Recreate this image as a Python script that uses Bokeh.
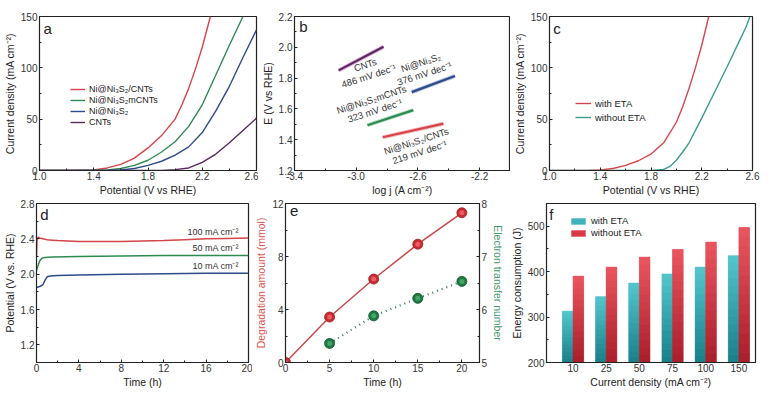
import numpy as np
from bokeh.plotting import figure
from bokeh.layouts import column, row
from bokeh.models import (Range1d, LinearAxis, Legend, LegendItem, FixedTicker,
                          Label, PrintfTickFormatter)
from bokeh.core.properties import value
from bokeh.embed import file_html
from bokeh.resources import INLINE

FONT = "Liberation Sans"

# ---------------- data ----------------
# (a) LSV curves
a_x_red = [1.0, 1.2, 1.4, 1.5, 1.6, 1.7, 1.8, 1.9, 2.0, 2.05, 2.1, 2.15, 2.2, 2.26]
a_y_red = [0, 0, 0.5, 2.5, 6, 12, 22, 34, 50, 64, 80, 99, 120, 150]
a_x_green = [1.0, 1.4, 1.5, 1.6, 1.7, 1.8, 1.9, 2.0, 2.1, 2.2, 2.3, 2.4, 2.5]
a_y_green = [0, 0, 0.5, 2, 5, 10, 18, 28, 43, 64, 93, 122, 150]
a_x_blue = [1.0, 1.5, 1.6, 1.7, 1.8, 1.9, 2.0, 2.1, 2.2, 2.3, 2.4, 2.5, 2.6]
a_y_blue = [0, 0, 0.5, 2, 5, 9, 15, 23, 37, 58, 82, 110, 137]
a_x_purple = [1.0, 1.9, 2.0, 2.1, 2.2, 2.3, 2.4, 2.5, 2.6]
a_y_purple = [0, 0, 0.8, 2.5, 8, 16, 27, 39, 51]
a_names = ["Ni@Ni\u2083S\u2082/CNTs", "Ni@Ni\u2083S\u2082mCNTs", "Ni@Ni\u2083S\u2082", "CNTs"]
pot_ticks = [1.0, 1.4, 1.8, 2.2, 2.6]
cd_ticks = [0, 50, 100, 150]

# (b) Tafel segments
b_names = ["CNTs", "Ni@Ni\u2083S\u2082", "Ni@Ni\u2083S\u2082mCNTs", "Ni@Ni\u2083S\u2082/CNTs"]
b_slopes = ["486 mV dec\u207b\u00b9", "376 mV dec\u207b\u00b9", "323 mV dec\u207b\u00b9", "219 mV dec\u207b\u00b9"]
b_x0 = [-3.114, -2.64, -2.927, -2.828]
b_y0 = [1.850, 1.709, 1.494, 1.416]
b_x1 = [-2.823, -2.36, -2.630, -2.435]
b_y1 = [2.003, 1.814, 1.592, 1.504]
b_xticks = [-3.4, -3.0, -2.6, -2.2]
b_yticks = [1.2, 1.4, 1.6, 1.8, 2.0, 2.2]

# (c) with / without ETA
c_x_with = [1.0, 1.3, 1.4, 1.5, 1.6, 1.7, 1.8, 1.9, 2.0, 2.05, 2.1, 2.15, 2.2, 2.255]
c_y_with = [0, 0, 0.5, 2, 5, 9.5, 16, 27, 47, 62, 80, 100, 122, 150]
c_x_wo = [1.0, 1.8, 1.9, 1.95, 2.0, 2.05, 2.1, 2.2, 2.3, 2.4, 2.5, 2.55, 2.58]
c_y_wo = [0, 0, 1, 4, 10, 18, 27, 51, 76, 101, 127, 140, 150]

# (d) chronopotentiometry
d_t_100 = [0, 0.05, 0.15, 0.3, 0.6, 1, 1.5, 2, 3, 4, 6, 8, 10, 12, 14, 16, 18, 20]
d_v_100 = [2.20, 2.38, 2.42, 2.41, 2.40, 2.39, 2.385, 2.38, 2.375, 2.37, 2.37, 2.37, 2.375, 2.38, 2.39, 2.40, 2.405, 2.41]
d_t_50 = [0, 0.1, 0.3, 0.5, 0.8, 1.5, 4, 8, 12, 16, 20]
d_v_50 = [2.04, 2.08, 2.15, 2.18, 2.19, 2.195, 2.20, 2.205, 2.21, 2.21, 2.21]
d_t_10 = [0, 0.3, 0.6, 0.8, 1.0, 1.3, 2, 4, 8, 12, 16, 20]
d_v_10 = [1.85, 1.86, 1.88, 1.93, 1.97, 1.98, 1.985, 1.99, 2.0, 2.005, 2.01, 2.01]
d_labels = ["100 mA cm\u207b\u00b2", "50 mA cm\u207b\u00b2", "10 mA cm\u207b\u00b2"]
d_xticks = [0, 4, 8, 12, 16, 20]
d_yticks = [1.2, 1.6, 2.0, 2.4, 2.8]

# (e) degradation / electron transfer number
e_t = [0, 5, 10, 15, 20]
e_deg = [0, 3.43, 6.30, 8.93, 11.30]
e_t2 = [5, 10, 15, 20]
e_etn = [5.36, 5.88, 6.21, 6.53]
e_xticks = [0, 5, 10, 15, 20]
e_yticks = [0, 4, 8, 12]
e_y2ticks = [5, 6, 7, 8]

# (f) energy consumption
f_cats = ["10", "25", "50", "75", "100", "150"]
f_with = [313, 345, 375, 395, 410, 435]
f_without = [390, 410, 432, 449, 465, 497]
f_yticks = [200, 300, 400, 500]

# ---------------- colours ----------------
RED = "#d4444a"
GREEN = "#2f8a52"
BLUE = "#2e4b8a"
PURPLE = "#55295a"
TEAL = "#3a9c8c"
INK = "#222222"


def minors(ticks):
    step = ticks[1] - ticks[0]
    return [t + step / 2 for t in [ticks[0] - step] + list(ticks)]


def mkfig(w, h, xr, yr, bl, br, bt, bb):
    p = figure(width=w, height=h, x_range=xr, y_range=yr, output_backend="svg",
               toolbar_location=None, min_border_left=bl, min_border_right=br,
               min_border_top=bt, min_border_bottom=bb)
    p.outline_line_color = INK
    p.outline_line_width = 1.2
    p.xgrid.visible = False
    p.ygrid.visible = False
    p.background_fill_color = "white"
    p.border_fill_color = "white"
    return p


def style_axis(ax, label, ticks=None, fmt=None, color=INK, horiz=False):
    ax.axis_label = label
    ax.axis_label_text_font = FONT
    ax.axis_label_text_font_size = "10.5px"
    ax.axis_label_text_font_style = "normal"
    ax.axis_label_text_color = color
    ax.major_label_text_font = FONT
    ax.major_label_text_font_size = "10px"
    ax.major_label_text_color = "#333333"
    ax.major_tick_in = 3
    ax.major_tick_out = 0
    ax.minor_tick_in = 2
    ax.minor_tick_out = 0
    ax.axis_label_standoff = 1 if horiz else 2
    ax.major_label_standoff = 1 if horiz else 2
    ax.axis_line_color = INK
    ax.major_tick_line_color = INK
    ax.minor_tick_line_color = INK
    if ticks is not None:
        ax.ticker = FixedTicker(ticks=ticks, minor_ticks=minors(ticks))
    if fmt is not None:
        ax.formatter = PrintfTickFormatter(format=fmt)


def letter(p, x, y, t):
    p.add_layout(Label(x=x, y=y, text=t, text_font=FONT, text_font_size="15px",
                       text_color=INK, text_baseline="top", text_align="left"))


def legend(p, items, loc, gw=15, gh=10, lh=10, sp=1, fs="9px"):
    lg = Legend(items=[LegendItem(label=l, renderers=[r]) for l, r in items],
                location=loc, background_fill_alpha=0, border_line_alpha=0,
                label_text_font=FONT, label_text_font_size=fs, label_text_color=INK,
                glyph_width=gw, glyph_height=gh, label_height=lh, spacing=sp,
                padding=0, margin=0, label_standoff=4)
    p.add_layout(lg)


H1, H2 = 198, 192
T1, B1 = 16, 23
T2, B2 = 5, 27

# ---------------- (a) ----------------
pa = mkfig(258, H1, Range1d(1.0, 2.6), Range1d(0, 150), 32, 2, T1, B1)
ra = pa.line(a_x_red, a_y_red, line_color=RED, line_width=1.4)
ga = pa.line(a_x_green, a_y_green, line_color=GREEN, line_width=1.4)
ba = pa.line(a_x_blue, a_y_blue, line_color=BLUE, line_width=1.4)
pua = pa.line(a_x_purple, a_y_purple, line_color=PURPLE, line_width=1.4)
style_axis(pa.xaxis[0], "Potential (V vs RHE)", pot_ticks, "%.1f", horiz=True)
style_axis(pa.yaxis[0], "Current density (mA cm\u207b\u00b2)", cd_ticks)
legend(pa, list(zip(a_names, [ra, ga, ba, pua])), (31, 43))
letter(pa, 1.03, 147, "a")

# ---------------- (b) ----------------
pb = mkfig(252, H1, Range1d(-3.4, -2.0), Range1d(1.2, 2.2), 27, 0, T1, B1)
b_cols = [PURPLE, BLUE, GREEN, RED]
b_halo = ["#d86ad8", "#6f8fd0", "#7cc79a", "#f08a90"]
pb.segment(b_x0, b_y0, b_x1, b_y1, line_color=b_halo, line_width=4, line_alpha=0.55)
pb.segment(b_x0, b_y0, b_x1, b_y1, line_color=b_cols, line_width=2.2)
b_lab_x = [-2.93, -2.57, -2.89, -2.60]
b_lab_y = [1.85, 1.865, 1.625, 1.355]
pb.text(b_lab_x, b_lab_y, text=[n + "\n" + s for n, s in zip(b_names, b_slopes)],
        angle=18, angle_units="deg", text_align="center", text_baseline="middle",
        text_font=value(FONT), text_font_size="9.5px", text_color="#333333",
        text_line_height=1.05)
style_axis(pb.xaxis[0], "log j (A cm\u207b\u00b2)", b_xticks, "%.1f", horiz=True)
style_axis(pb.yaxis[0], "E (V vs RHE)", b_yticks, "%.1f")
letter(pb, -3.37, 2.19, "b")

# ---------------- (c) ----------------
pc = mkfig(253, H1, Range1d(1.0, 2.6), Range1d(0, 150), 30, 11, T1, B1)
rc = pc.line(c_x_with, c_y_with, line_color=RED, line_width=1.4)
tc = pc.line(c_x_wo, c_y_wo, line_color=TEAL, line_width=1.4)
style_axis(pc.xaxis[0], "Potential (V vs RHE)", pot_ticks, "%.1f", horiz=True)
style_axis(pc.yaxis[0], "Current density (mA cm\u207b\u00b2)", cd_ticks)
legend(pc, [("with ETA", rc), ("without ETA", tc)], (26, 47), gw=16, gh=12, lh=12, sp=2, fs="9.5px")
letter(pc, 1.03, 147, "c")

# ---------------- (d) ----------------
pd_ = mkfig(252, H2, Range1d(0, 20), Range1d(1.0, 2.8), 32, 4, T2, B2)
pd_.line(d_t_100, d_v_100, line_color=RED, line_width=1.5)
pd_.line(d_t_50, d_v_50, line_color=GREEN, line_width=1.5)
pd_.line(d_t_10, d_v_10, line_color=BLUE, line_width=1.5)
pd_.text([19.1, 19.1, 19.1], [2.475, 2.295, 2.09], text=d_labels, text_align="right",
         text_baseline="middle", text_font=value(FONT), text_font_size="9px",
         text_color="#333333")
style_axis(pd_.xaxis[0], "Time (h)", d_xticks, horiz=True)
style_axis(pd_.yaxis[0], "Potential (V vs. RHE)", d_yticks, "%.1f")
letter(pd_, 0.35, 2.77, "d")

# ---------------- (e) ----------------
pe = mkfig(255, H2, Range1d(0, 22), Range1d(0, 12), 30, 24, T2, B2)
pe.extra_y_ranges = {"etn": Range1d(5, 8)}
pe.line(e_t, e_deg, line_color="#c8474a", line_width=1.5)
pe.scatter(e_t, e_deg, size=10, fill_color="#c92a32", line_color="#9a1a20", line_width=0.8)
pe.scatter(e_t, e_deg, size=5, fill_color="#f06a70", line_alpha=0, fill_alpha=0.8)
pe.line(e_t2, e_etn, y_range_name="etn", line_color="#3d7a56", line_width=2.2, line_dash="1 4")
pe.scatter(e_t2, e_etn, y_range_name="etn", size=10, fill_color="#1e7a42", line_color="#12502a", line_width=0.8)
pe.scatter(e_t2, e_etn, y_range_name="etn", size=5, fill_color="#4fb073", line_alpha=0, fill_alpha=0.8)
ax_r = LinearAxis(y_range_name="etn")
pe.add_layout(ax_r, "right")
style_axis(pe.xaxis[0], "Time (h)", e_xticks, horiz=True)
style_axis(pe.yaxis[0], "Degradation amount (mmol)", e_yticks, color="#d9534f")
style_axis(ax_r, "Electron transfer number", e_y2ticks, color="#3f9a6a")
letter(pe, 0.5, 11.8, "e")

# ---------------- (f) ----------------
pf = mkfig(256, H2, Range1d(-0.8, 5.5), Range1d(200, 550), 37, 8, T2, B2)
idx = np.arange(len(f_cats))
W = 0.32
base_t = pf.vbar(x=idx - W / 2, top=f_with, bottom=200, width=W, fill_color="#3fb3bb", line_alpha=0)
base_r = pf.vbar(x=idx + W / 2, top=f_without, bottom=200, width=W, fill_color="#d83a46", line_alpha=0)


def hexmix(c1, c2, t):
    a = [int(c1[i:i + 2], 16) for i in (1, 3, 5)]
    b = [int(c2[i:i + 2], 16) for i in (1, 3, 5)]
    return "#%02x%02x%02x" % tuple(int(round(a[k] + (b[k] - a[k]) * t)) for k in range(3))


N = 14
xs, bots, tops, cols = [], [], [], []
for vals, off, dark, light in ((f_with, -W / 2, "#1a7d86", "#55c6cd"),
                               (f_without, W / 2, "#a81e2a", "#ea5660")):
    for i, v in enumerate(vals):
        for k in range(N):
            xs.append(i + off)
            bots.append(200 + (v - 200) * k / N)
            tops.append(200 + (v - 200) * (k + 1) / N)
            cols.append(hexmix(dark, light, (k + 0.5) / N))
pf.vbar(x=xs, bottom=bots, top=tops, width=W, fill_color=cols, line_color=cols, line_width=0.5)
style_axis(pf.xaxis[0], "Current density (mA cm\u207b\u00b2)", horiz=True)
pf.xaxis.ticker = FixedTicker(ticks=list(idx), minor_ticks=[])
pf.xaxis.major_label_overrides = {int(i): c for i, c in zip(idx, f_cats)}
pf.xaxis.major_tick_in = 0
style_axis(pf.yaxis[0], "Energy consumption (J)", f_yticks)
legend(pf, [("with ETA", base_t), ("without ETA", base_r)], (23, 124), gw=18, gh=8, lh=11, sp=1, fs="9.5px")
letter(pf, -0.72, 545, "f")

layout = column(row(pa, pb, pc), row(pd_, pe, pf))
open("out.html", "w").write(file_html(layout, INLINE))
